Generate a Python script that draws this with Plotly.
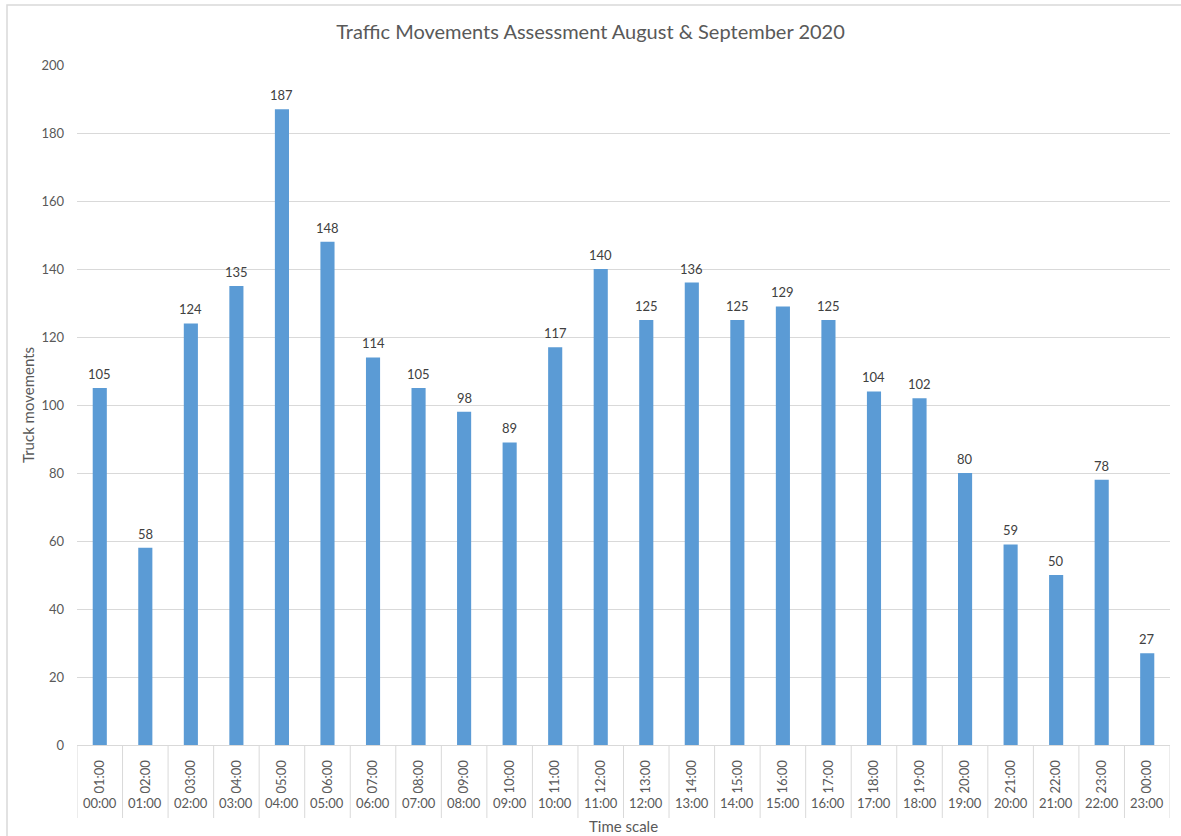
import plotly.graph_objects as go

start_times = ["00:00","01:00","02:00","03:00","04:00","05:00","06:00","07:00","08:00","09:00","10:00","11:00",
               "12:00","13:00","14:00","15:00","16:00","17:00","18:00","19:00","20:00","21:00","22:00","23:00"]
end_times = ["01:00","02:00","03:00","04:00","05:00","06:00","07:00","08:00","09:00","10:00","11:00","12:00",
             "13:00","14:00","15:00","16:00","17:00","18:00","19:00","20:00","21:00","22:00","23:00","00:00"]
truck_movements = [105, 58, 124, 135, 187, 148, 114, 105, 98, 89, 117, 140,
                   125, 136, 125, 129, 125, 104, 102, 80, 59, 50, 78, 27]

FONT = "Lato, Carlito, Calibri, sans-serif"
GREY = "#595959"
LINE = "#d9d9d9"

PLOT_H = 836 - 65 - 91

fig = go.Figure()
fig.add_trace(go.Bar(
    x=list(range(len(end_times))),
    y=truck_movements,
    marker=dict(color="#5b9bd5", line=dict(width=0)),
    width=0.31,
    hoverinfo="y",
))

shapes = []
# category dividers below the axis
for i in range(len(end_times) + 1):
    shapes.append(dict(type="line", xref="x", yref="paper",
                       x0=i - 0.5, x1=i - 0.5, y0=0, y1=-73 / PLOT_H,
                       line=dict(color=LINE, width=1)))
# chart frame
shapes.append(dict(type="rect", xref="paper", yref="paper",
                   x0=(7 - 77) / 1093, x1=1.03, y0=-0.3, y1=1 + 60 / PLOT_H,
                   line=dict(color=LINE, width=1.5), fillcolor="rgba(0,0,0,0)", layer="below"))

annotations = []
# data labels above bars
for i, v in enumerate(truck_movements):
    annotations.append(dict(x=i, xref="x", y=v, yref="y", text=str(v), showarrow=False,
                            xanchor="center", yanchor="bottom", yshift=4,
                            font=dict(family=FONT, size=13, color="#404040")))
# outer category row (start times)
for i, s in enumerate(start_times):
    annotations.append(dict(x=i, xref="x", y=-58 / PLOT_H, yref="paper",
                            text=s, showarrow=False, xanchor="center", yanchor="middle",
                            font=dict(family=FONT, size=13, color=GREY)))
annotations.append(dict(x=0.5, xref="paper", y=-81 / PLOT_H, yref="paper",
                        text="Time scale", showarrow=False, xanchor="center", yanchor="middle",
                        font=dict(family=FONT, size=15, color=GREY)))

fig.update_layout(
    width=1181, height=836,
    paper_bgcolor="white", plot_bgcolor="white",
    margin=dict(l=77, r=11, t=65, b=91, autoexpand=False),
    title=dict(text="Traffic Movements Assessment August & September 2020",
               x=0.5, xanchor="center", y=1 - 32 / 836, yanchor="middle",
               font=dict(family=FONT, size=20, color=GREY)),
    font=dict(family=FONT, size=13, color=GREY),
    showlegend=False,
    xaxis=dict(
        type="linear",
        range=[-0.5, len(end_times) - 0.5],
        tickmode="array",
        tickvals=list(range(len(end_times))),
        ticktext=end_times,
        tickangle=-90,
        tickfont=dict(family=FONT, size=13, color=GREY),
        showline=True, linecolor=LINE, linewidth=1,
        ticks="", showgrid=False, zeroline=False,
        ticklabelstandoff=9,
    ),
    yaxis=dict(
        range=[0, 200], dtick=20,
        showgrid=True, gridcolor=LINE, gridwidth=1,
        zeroline=False, showline=False,
        tickfont=dict(family=FONT, size=13, color=GREY),
        ticks="", ticklabelstandoff=12,
        title=dict(text="Truck movements", font=dict(family=FONT, size=15, color=GREY), standoff=3),
    ),
    shapes=shapes,
    annotations=annotations,
)

fig.write_html(
    "out.html",
    config={"displayModeBar": False},
    post_script="document.body.style.margin='0';document.body.style.overflow='hidden';",
)
